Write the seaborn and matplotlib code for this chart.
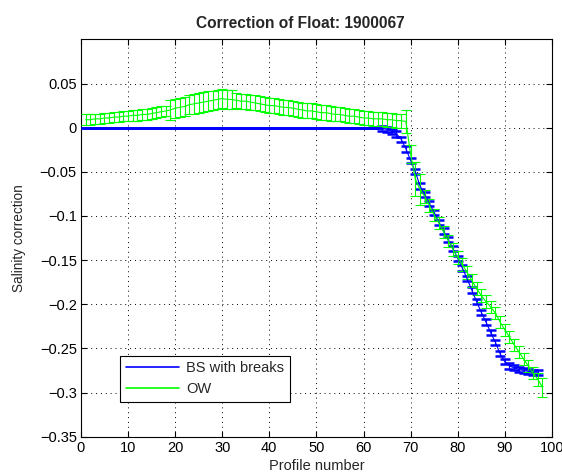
import numpy as np
import pandas as pd
import matplotlib
matplotlib.use("Agg")
import matplotlib.pyplot as plt
import seaborn as sns

# ---- data ----
bs_profiles = list(range(1, 98))
bs_values = [0.0] * 63 + [
    -0.001, -0.002, -0.004, -0.007, -0.013, -0.024, -0.037, -0.050, -0.066, -0.076,
    -0.086, -0.096, -0.107, -0.117, -0.127, -0.137, -0.148, -0.159, -0.171, -0.184,
    -0.197, -0.209, -0.220, -0.232, -0.243, -0.256, -0.265, -0.270, -0.272, -0.274,
    -0.275, -0.276, -0.277, -0.277]
bs_errors = [0.0] * 63 + [0.003] * 34

ow_profiles = list(range(1, 99))
ow_values = [
    0.009, 0.009, 0.010, 0.010, 0.011, 0.011, 0.012, 0.012, 0.013, 0.013,
    0.014, 0.014, 0.015, 0.015, 0.016, 0.017, 0.018, 0.019, 0.020, 0.022,
    0.023, 0.024, 0.026, 0.027, 0.028, 0.029, 0.030, 0.031, 0.032, 0.033,
    0.032, 0.032, 0.031, 0.030, 0.030, 0.029, 0.028, 0.027, 0.026, 0.025,
    0.025, 0.024, 0.023, 0.023, 0.022, 0.021, 0.020, 0.019, 0.019, 0.018,
    0.017, 0.017, 0.016, 0.015, 0.015, 0.014, 0.013, 0.013, 0.012, 0.011,
    0.011, 0.010, 0.010, 0.010, 0.009, 0.009, 0.008, 0.008, 0.007, -0.030,
    -0.058, -0.070, -0.078, -0.088, -0.099, -0.108, -0.118, -0.128, -0.138, -0.147,
    -0.155, -0.164, -0.173, -0.182, -0.190, -0.197, -0.203, -0.210, -0.220, -0.229,
    -0.237, -0.246, -0.254, -0.262, -0.270, -0.278, -0.285, -0.294]
ow_errors = ([0.006] * 18 + [0.011] * 14 + [0.0085] * 20 + [0.008] * 16 +
             [0.0135, 0.0105, 0.019, 0.018] +
             [0.007] * 25 + [0.0105])

series_names = ["BS with breaks", "OW"]
x_ticks = [0, 10, 20, 30, 40, 50, 60, 70, 80, 90, 100]
y_ticks = [-0.35, -0.3, -0.25, -0.2, -0.15, -0.1, -0.05, 0, 0.05]
y_tick_labels = ["\u22120.35", "\u22120.3", "\u22120.25", "\u22120.2", "\u22120.15",
                 "\u22120.1", "\u22120.05", "0", "0.05"]

df = pd.concat([
    pd.DataFrame({"profile": bs_profiles, "corr": bs_values, "err": bs_errors,
                  "series": series_names[0]}),
    pd.DataFrame({"profile": ow_profiles, "corr": ow_values, "err": ow_errors,
                  "series": series_names[1]}),
], ignore_index=True)

sns.set_style("white")
plt.rcParams["font.family"] = ["Liberation Sans", "DejaVu Sans"]

fig = plt.figure(figsize=(5.62, 4.75), dpi=100)
ax = fig.add_axes([0.144, 0.0806, 0.838, 0.8365])

colors = {"BS with breaks": (0, 0, 1), "OW": (0, 1, 0)}
cap_widths = {"BS with breaks": 1.8, "OW": 0.8}

for name in series_names:
    sub = df[df.series == name]
    ax.errorbar(sub["profile"], sub["corr"], yerr=sub["err"], fmt="none",
                ecolor=colors[name], elinewidth=0.8, capsize=3.8,
                capthick=cap_widths[name], zorder=3)

sns.lineplot(data=df, x="profile", y="corr", hue="series", palette=colors,
             hue_order=series_names, linewidth=0.8, ax=ax, legend=True,
             estimator=None, sort=False, zorder=4)

ax.set_xlim(0, 100)
ax.set_ylim(-0.35, 0.1)
ax.set_xticks(x_ticks)
ax.set_yticks(y_ticks)
ax.set_yticklabels(y_tick_labels)
ax.grid(True, color="black", linestyle=(0, (1, 4)), linewidth=0.7)
ax.tick_params(direction="in", length=4, width=0.8, labelsize=10.5,
               top=True, right=True, bottom=True, left=True, colors="black",
               pad=3)
for s in ax.spines.values():
    s.set_color("black")
    s.set_linewidth(0.8)

ax.set_xlabel("Profile number", fontsize=10.5, labelpad=3)
ax.set_ylabel("Salinity correction", fontsize=9.8, labelpad=10)
ax.set_title("Correction of Float: 1900067", fontsize=11.2, fontweight="bold",
             pad=8, x=0.466)

leg = ax.legend(loc="lower left", bbox_to_anchor=(0.084, 0.088), fontsize=10.5,
                frameon=True, fancybox=False, edgecolor="black", framealpha=1,
                borderpad=0.4, handlelength=3.6, handletextpad=0.5,
                labelspacing=0.45, borderaxespad=0)
leg.get_frame().set_linewidth(0.8)
for line in leg.get_lines():
    line.set_linewidth(1.2)

fig.savefig("out.png", dpi=100)
